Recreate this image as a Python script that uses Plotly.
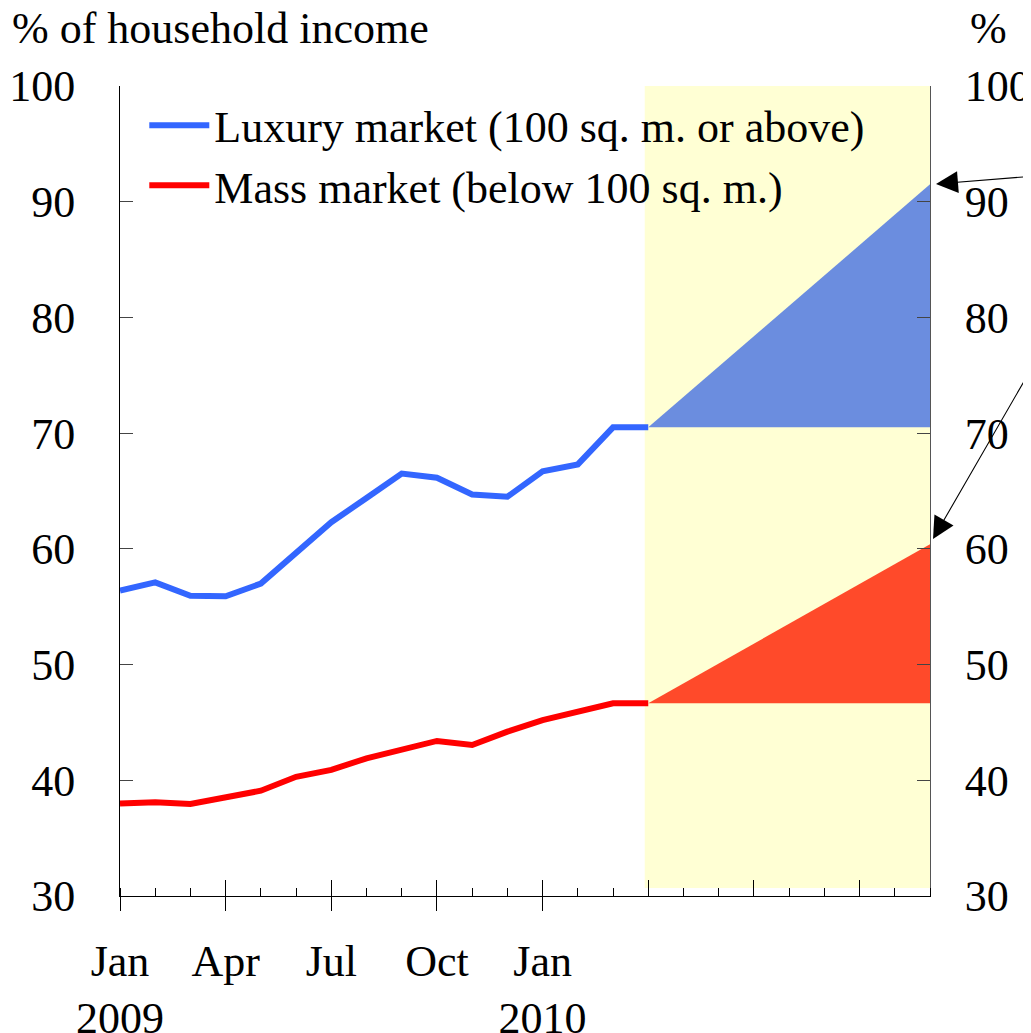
import plotly.graph_objects as go

# ---- data ----
month_index = list(range(16))  # Jan 2009 .. Apr 2010
luxury = [56.4, 57.1, 55.95, 55.9, 57.0, 59.7, 62.3, 64.4, 66.5, 66.15,
          64.7, 64.5, 66.7, 67.3, 70.5, 70.5]
mass = [38.0, 38.1, 37.95, 38.5, 39.1, 40.3, 40.9, 41.9, 42.7, 43.4,
        43.05, 44.2, 45.2, 45.9, 46.65, 46.65]
proj_x = [15, 23]            # Apr 2010 .. Dec 2010
luxury_proj = [70.5, 91.5]
mass_proj = [46.65, 60.4]

tick_vals = [0, 3, 6, 9, 12]
tick_text = ["Jan<br>2009", "Apr", "Jul", "Oct", "Jan<br>2010"]
major_ticks = [0, 3, 6, 9, 12, 15, 18, 21]

FONT = "Times New Roman, Liberation Serif, serif"
FS = 44
BLUE = "#3366ff"
RED = "#ff0000"

fig = go.Figure()

# projection triangles
fig.add_trace(go.Scatter(
    x=[proj_x[0], proj_x[1], proj_x[1], proj_x[0]],
    y=[luxury_proj[0], luxury_proj[1], luxury_proj[0], luxury_proj[0]],
    fill="toself", fillcolor="#6b8ddf", line=dict(width=0),
    mode="lines", showlegend=False, hoverinfo="skip"))
fig.add_trace(go.Scatter(
    x=[proj_x[0], proj_x[1], proj_x[1], proj_x[0]],
    y=[mass_proj[0], mass_proj[1], mass_proj[0], mass_proj[0]],
    fill="toself", fillcolor="#ff4a2a", line=dict(width=0),
    mode="lines", showlegend=False, hoverinfo="skip"))

fig.add_trace(go.Scatter(x=month_index, y=luxury, mode="lines",
                         name="Luxury market (100 sq. m. or above)",
                         line=dict(color=BLUE, width=6)))
fig.add_trace(go.Scatter(x=month_index, y=mass, mode="lines",
                         name="Mass market (below 100 sq. m.)",
                         line=dict(color=RED, width=6)))

# yellow forecast area
fig.add_shape(type="rect", xref="x", yref="y", x0=14.9, x1=23, y0=30.7, y1=100,
              fillcolor="#ffffd4", line=dict(width=0), layer="below")

# arrows pointing to projection ends
fig.add_annotation(x=23, y=luxury_proj[1], xref="x", yref="y", text=" ",
                   showarrow=True, arrowhead=2, arrowsize=4, arrowwidth=1.1,
                   standoff=6, ax=110, ay=-8, arrowcolor="black")
fig.add_annotation(x=23, y=mass_proj[1], xref="x", yref="y", text=" ",
                   showarrow=True, arrowhead=2, arrowsize=4, arrowwidth=1.1,
                   standoff=6, ax=110, ay=-175, arrowcolor="black")

# axis titles as text
fig.add_annotation(x=0, y=1.0, xref="paper", yref="paper", xanchor="left",
                   yanchor="bottom", xshift=-110, yshift=31,
                   text="% of household income", showarrow=False,
                   font=dict(family=FONT, size=FS, color="black"))
fig.add_annotation(x=1, y=1.0, xref="paper", yref="paper", xanchor="left",
                   yanchor="bottom", xshift=38, yshift=31,
                   text="%", showarrow=False,
                   font=dict(family=FONT, size=FS, color="black"))

fig.update_layout(
    width=1023, height=1025,
    margin=dict(l=112, r=101, t=78, b=137, autoexpand=False),
    paper_bgcolor="white", plot_bgcolor="white",
    font=dict(family=FONT, size=FS, color="black"),
    showlegend=True,
    legend=dict(x=0.03, y=0.995, xanchor="left", yanchor="top",
                bgcolor="rgba(0,0,0,0)", font=dict(family=FONT, size=FS),
                itemwidth=60, tracegroupgap=0),
    xaxis=dict(range=[0, 23], tickvals=tick_vals, ticktext=tick_text,
               ticks="outside", ticklen=14, tickcolor="black", tickwidth=1,
               showline=True, linecolor="black", linewidth=1, automargin=False,
               showgrid=False, zeroline=False, ticklabelstandoff=12,
               minor=dict(tickvals=list(range(24)), ticks="inside", ticklen=8,
                          tickcolor="black", tickwidth=1),
               tickfont=dict(family=FONT, size=FS)),
    xaxis2=dict(range=[0, 23], overlaying="x", matches="x", tickvals=major_ticks,
                ticks="inside", ticklen=16, tickcolor="black", tickwidth=1,
                showticklabels=False, showgrid=False, zeroline=False,
                side="bottom", anchor="y", automargin=False),
    yaxis=dict(range=[30, 100], dtick=10, ticks="inside", ticklen=13,
               tickcolor="#444", showline=True, linecolor="black", linewidth=1,
               showgrid=False, zeroline=False, ticklabelstandoff=35,
               automargin=False, tickfont=dict(family=FONT, size=FS)),
    yaxis2=dict(range=[30, 100], dtick=10, ticks="inside", ticklen=13,
                tickcolor="#444", showline=True, linecolor="#555", linewidth=1,
                overlaying="y", side="right", matches="y", automargin=False,
                showgrid=False, zeroline=False, ticklabelstandoff=25,
                tickfont=dict(family=FONT, size=FS)),
)

# dummy trace to activate secondary axes
fig.add_trace(go.Scatter(x=[0], y=[30], xaxis="x2", yaxis="y2", mode="markers",
                         marker=dict(opacity=0), showlegend=False, hoverinfo="skip"))

fig.write_html("out.html")
